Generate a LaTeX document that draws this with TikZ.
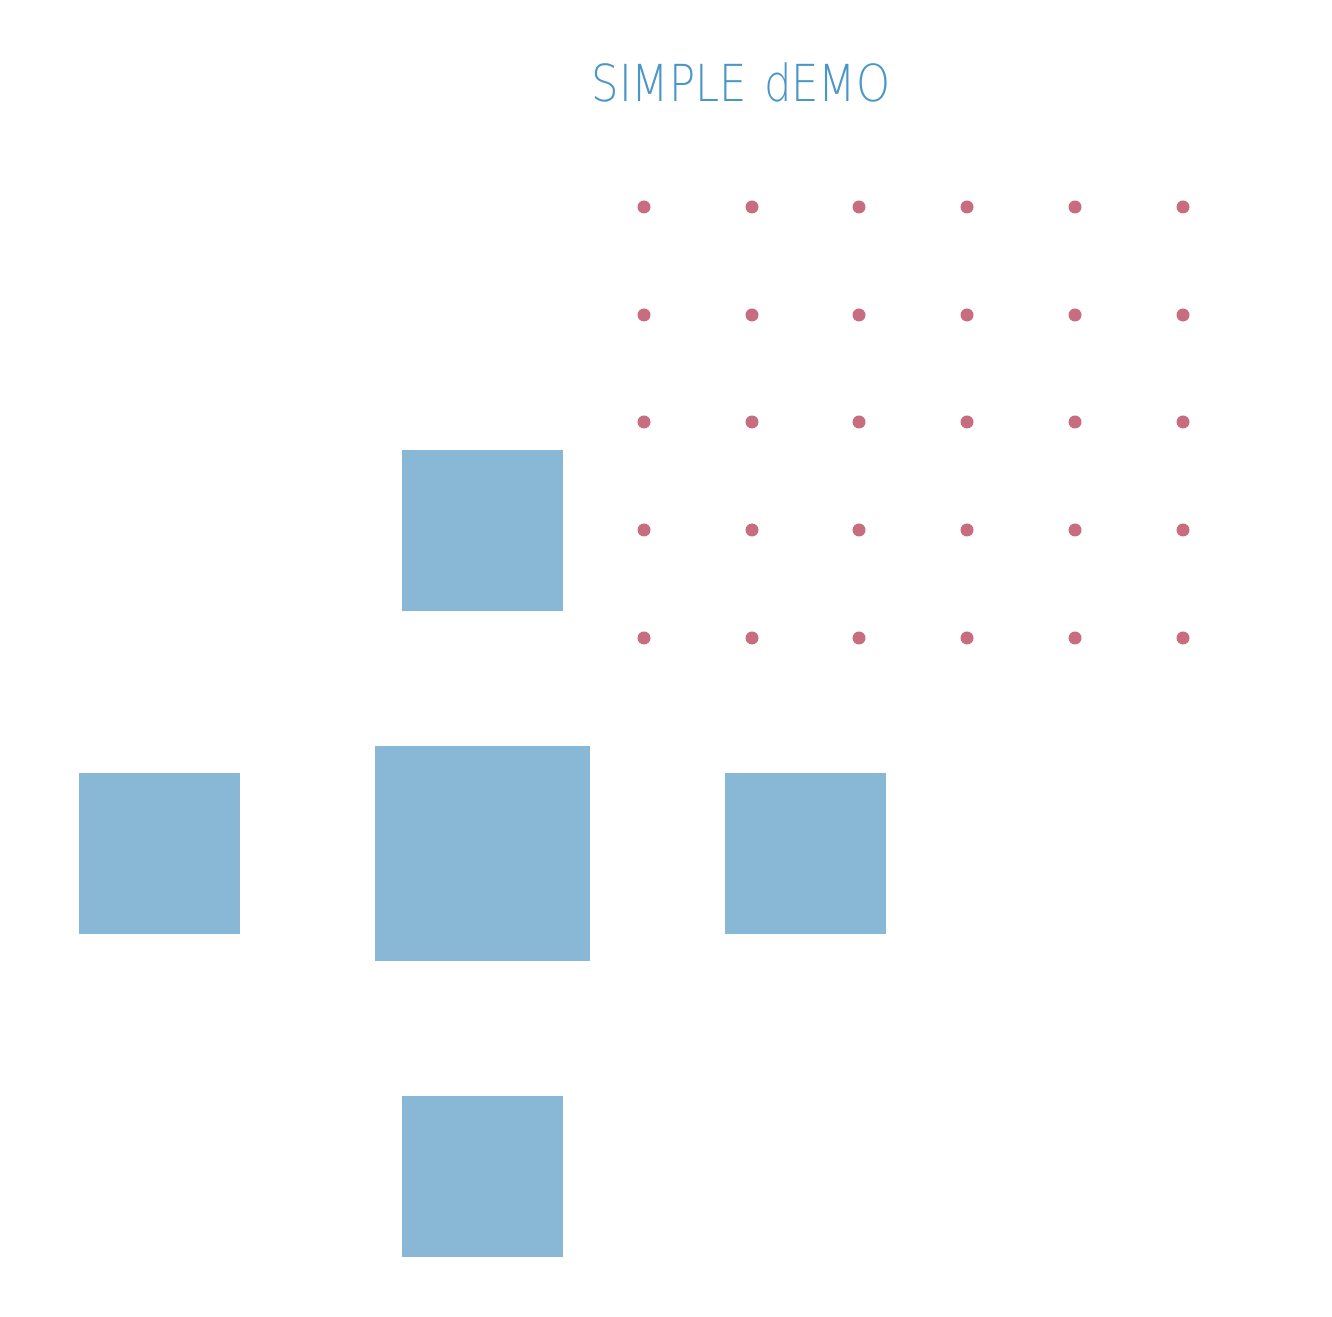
\documentclass[tikz,border=0pt]{standalone}
\usepackage{fontspec}
\newfontfamily\titlefont{DejaVu Sans ExtraLight}
\definecolor{sqblue}{RGB}{137,184,214}
\definecolor{dotred}{RGB}{200,108,128}
\definecolor{titleblue}{RGB}{75,150,200}
\tikzset{
  sq/.style={fill=sqblue, draw=none, inner sep=0pt, outer sep=0pt, minimum size=#1},
  gdot/.style={circle, fill=dotred, draw=none, inner sep=0pt, minimum size=13pt},
  titletext/.style={text=titleblue, font=\titlefont\fontsize{51}{51}\selectfont, inner sep=0pt, anchor=base, xscale=0.85, transform shape}
}
\begin{document}
\begin{tikzpicture}[x=1pt,y=1pt]
\useasboundingbox (0,0) rectangle (1332,1316);
% title
\node[titletext] (title) at (741,{1316-102}) {SIMPLE\hspace{20pt}dEMO};
% dot grid
\foreach \i/\px in {1/644,2/752,3/859,4/967,5/1075,6/1183}{
  \foreach \j/\py in {1/207,2/315,3/422,4/530,5/638}{
    \node[gdot] (d\i\j) at (\px,{1316-\py}) {};
  }
}
% squares
\node[sq=161pt] (top) at (482.5,{1316-530.5}) {};
\node[sq=215pt] (mid) at (482.5,{1316-853.5}) {};
\node[sq=161pt] (left) at (159.5,{1316-853.5}) {};
\node[sq=161pt] (right) at (805.5,{1316-853.5}) {};
\node[sq=161pt] (bottom) at (482.5,{1316-1176.5}) {};
\end{tikzpicture}
\end{document}
